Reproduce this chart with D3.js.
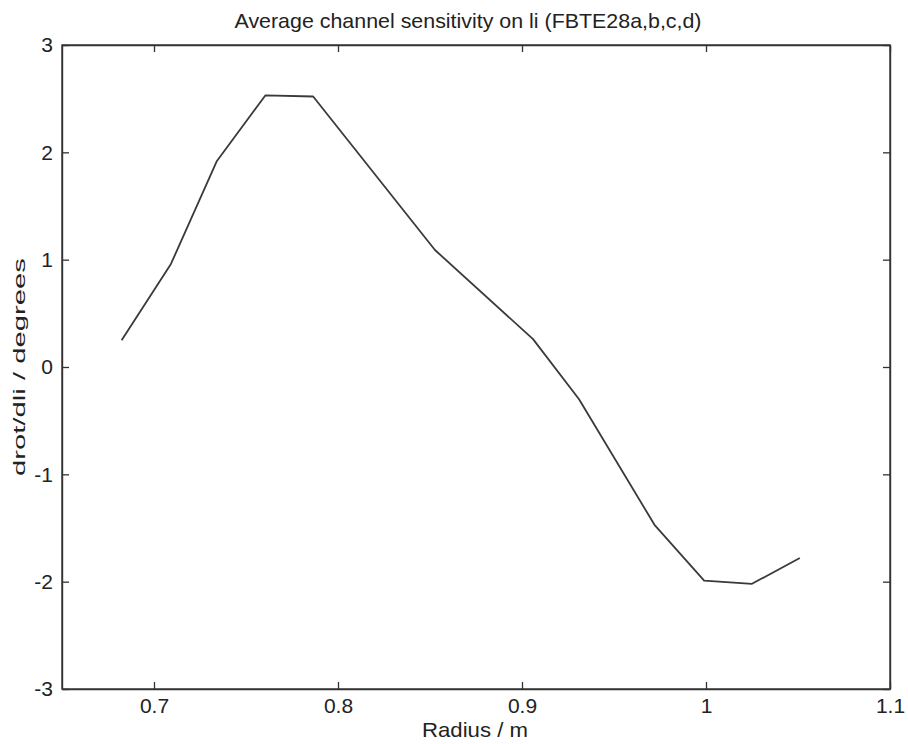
<!DOCTYPE html>
<html>
<head>
<meta charset="utf-8">
<script src="https://cdn.jsdelivr.net/npm/d3@7"></script>
<style>
	body { margin: 0; background: #fff; }
	text { font-family: 'Liberation Sans', Arial, sans-serif; fill: #222; }
</style>
</head>
<body>
<div id="wrapper"></div>
<script>
const radius = [ 0.6824, 0.7092, 0.7342, 0.7605, 0.7865, 0.8527, 0.906, 0.931, 0.972, 0.999, 1.025, 1.051 ];
const sensitivity = [ 0.25, 0.96, 1.92, 2.53, 2.52, 1.09, 0.26, -0.3, -1.47, -1.99, -2.02, -1.78 ];
const xTicks = [ 0.7, 0.8, 0.9, 1, 1.1 ];
const yTicks = [ -3, -2, -1, 0, 1, 2, 3 ];

const dimensions = {
	width: 908,
	height: 744,
	margin: { top: 45, right: 18, bottom: 55, left: 62 }
};
dimensions.boundedWidth = dimensions.width - dimensions.margin.left - dimensions.margin.right;
dimensions.boundedHeight = dimensions.height - dimensions.margin.top - dimensions.margin.bottom;

function drawChart() {
	const data = radius.map((r, i) => ({ r: r, v: sensitivity[i] }));

	const x = d3.scaleLinear().domain([ 0.65, 1.1 ]).range([ 0, dimensions.boundedWidth ]);
	const y = d3.scaleLinear().domain([ -3, 3 ]).range([ dimensions.boundedHeight, 0 ]);

	const svg = d3.select('#wrapper').append('svg').attr('width', dimensions.width).attr('height', dimensions.height);
	const bounds = svg
		.append('g')
		.attr('transform', `translate(${dimensions.margin.left}, ${dimensions.margin.top})`);

	const fmt = (d) => String(d);
	const tick = 7;

	// bottom + top axes, ticks pointing inward
	bounds
		.append('g')
		.attr('transform', `translate(0, ${dimensions.boundedHeight})`)
		.call(d3.axisBottom(x).tickValues(xTicks).tickFormat(fmt).tickSizeInner(-tick).tickSizeOuter(0).tickPadding(9));
	bounds.append('g').call(d3.axisTop(x).tickValues(xTicks).tickFormat('').tickSizeInner(-tick).tickSizeOuter(0));

	bounds
		.append('g')
		.call(d3.axisLeft(y).tickValues(yTicks).tickFormat(fmt).tickSizeInner(-tick).tickSizeOuter(0).tickPadding(9));
	bounds
		.append('g')
		.attr('transform', `translate(${dimensions.boundedWidth}, 0)`)
		.call(d3.axisRight(y).tickValues(yTicks).tickFormat('').tickSizeInner(-tick).tickSizeOuter(0));

	bounds.selectAll('.domain').attr('stroke', '#333').attr('stroke-width', 1.4);
	bounds.selectAll('.tick line').attr('stroke', '#333').attr('stroke-width', 1.3);
	bounds.selectAll('.tick text').style('font-size', '21px').attr('fill', '#222');

	// frame
	bounds
		.append('rect')
		.attr('width', dimensions.boundedWidth)
		.attr('height', dimensions.boundedHeight)
		.attr('fill', 'none')
		.attr('stroke', '#333')
		.attr('stroke-width', 1.4);

	// the curve
	const line = d3.line().x((d) => x(d.r)).y((d) => y(d.v));
	bounds
		.append('path')
		.datum(data)
		.attr('d', line)
		.attr('fill', 'none')
		.attr('stroke', '#3a3a3a')
		.attr('stroke-width', 1.8)
		.attr('stroke-linejoin', 'round');

	svg
		.append('text')
		.attr('x', 468)
		.attr('y', 28)
		.attr('text-anchor', 'middle')
		.attr('textLength', 467)
		.attr('lengthAdjust', 'spacingAndGlyphs')
		.style('font-size', '21px')
		.text('Average channel sensitivity on li (FBTE28a,b,c,d)');

	svg
		.append('text')
		.attr('x', 475)
		.attr('y', 737)
		.attr('text-anchor', 'middle')
		.attr('textLength', 106)
		.attr('lengthAdjust', 'spacingAndGlyphs')
		.style('font-size', '21px')
		.text('Radius / m');

	svg
		.append('text')
		.attr('transform', `translate(25, ${dimensions.margin.top + dimensions.boundedHeight / 2}) rotate(-90)`)
		.attr('text-anchor', 'middle')
		.attr('textLength', 218)
		.attr('lengthAdjust', 'spacingAndGlyphs')
		.style('font-size', '17px')
		.text('drot/dli / degrees');
}
drawChart();
</script>
</body>
</html>
